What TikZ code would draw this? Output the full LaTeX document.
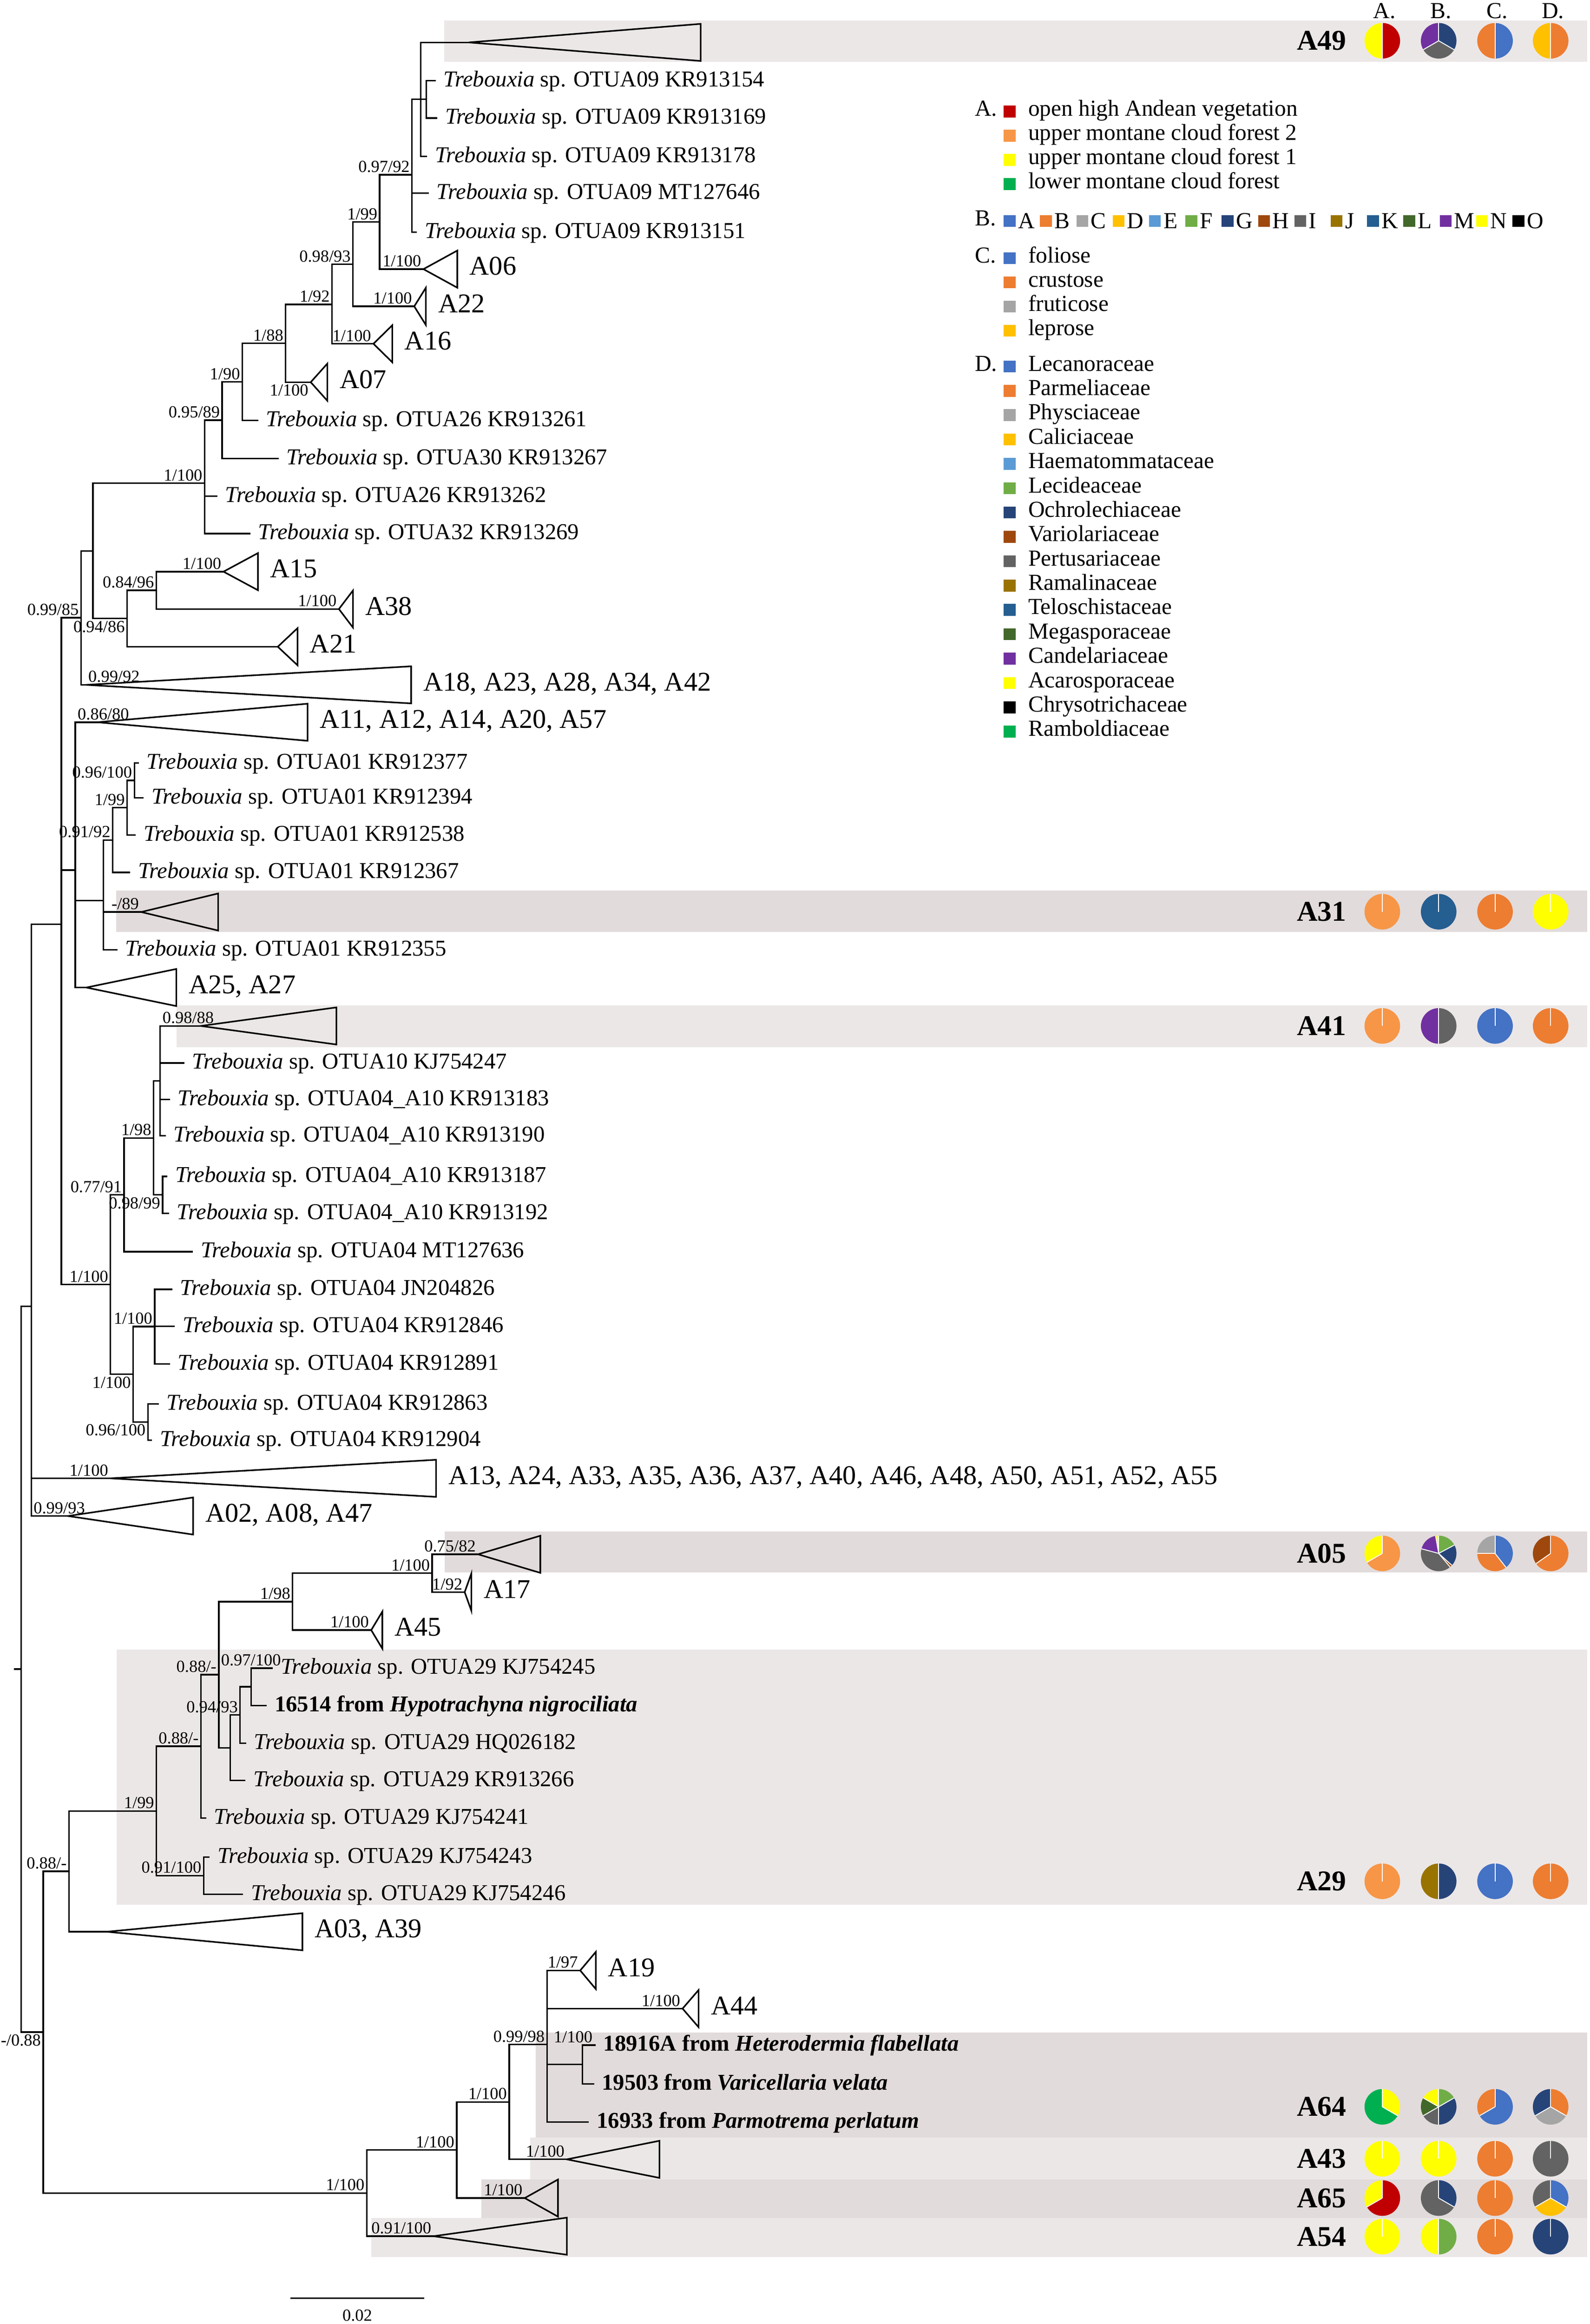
\documentclass[tikz,border=0pt]{standalone}
\usepackage{fontspec}
\setmainfont{Liberation Serif}
\usepackage{tikz}
\usetikzlibrary{positioning}
\definecolor{cRed}{HTML}{C00000}
\definecolor{cLor}{HTML}{F79646}
\definecolor{cYel}{HTML}{FFFF00}
\definecolor{cGrn}{HTML}{00B050}
\definecolor{cA}{HTML}{4472C4}
\definecolor{cB}{HTML}{ED7D31}
\definecolor{cC}{HTML}{A5A5A5}
\definecolor{cD}{HTML}{FFC000}
\definecolor{cE}{HTML}{5B9BD5}
\definecolor{cF}{HTML}{70AD47}
\definecolor{cG}{HTML}{264478}
\definecolor{cH}{HTML}{9E480E}
\definecolor{cI}{HTML}{636363}
\definecolor{cJ}{HTML}{997300}
\definecolor{cK}{HTML}{255E91}
\definecolor{cL}{HTML}{43682B}
\definecolor{cM}{HTML}{7030A0}
\definecolor{cN}{HTML}{FFFF00}
\definecolor{cO}{HTML}{000000}
\definecolor{shadeL}{HTML}{ECE7E7}
\definecolor{shadeD}{HTML}{E2DBDB}
\tikzset{
  branch/.style={draw=black, line width=0.6pt, line cap=rect},
  tri/.style={draw=black, line width=0.6pt, line join=miter},
  leaf/.style={font=\fontsize{8.7}{10}\selectfont, anchor=mid west, inner sep=0pt, xshift=0.11cm},
  bleaf/.style={leaf, font=\fontsize{8.7}{10}\selectfont\bfseries},
  clab/.style={font=\fontsize{10.4}{12}\selectfont, anchor=mid west, inner sep=0pt, xshift=0.16cm},
  sup/.style={font=\fontsize{6.5}{7}\selectfont, inner sep=0.7pt},
  rowlab/.style={font=\fontsize{11}{13}\selectfont\bfseries, anchor=east, inner sep=0pt},
  hdr/.style={font=\fontsize{8.8}{10}\selectfont, anchor=base, inner sep=0pt},
  legt/.style={font=\fontsize{8.8}{10}\selectfont, anchor=mid west, inner sep=0pt},
  legsq/.style={minimum size=0.16cm, inner sep=0pt, outer sep=0pt},
}
% one pie: centre x, centre y, list of start/end/colour (degrees clockwise from top)
\newcommand{\pieat}[3]{%
  \foreach \angA/\angB/\col in {#3}
    \fill[fill=\col] (#1,#2) -- ++({\angA-90}:12) arc[start angle={\angA-90}, end angle={\angB-90}, radius=12] -- cycle;
  \foreach \angA/\angB/\col in {#3}
    \draw[white, line width=0.35pt] (#1,#2) -- ++({\angA-90}:12);
}
\newcommand{\pierow}[6]{%
  \node[rowlab] (row#1) at (908,#2) {#1};
  \pieat{932}{#2}{#3}%
  \pieat{970}{#2}{#4}%
  \pieat{1008}{#2}{#5}%
  \pieat{1045.5}{#2}{#6}%
}
\begin{document}
\begin{tikzpicture}[x=0.02cm, y=-0.02cm]
  \fill[white] (0,0) rectangle (1072,1566.4);
  \useasboundingbox (0,0) rectangle (1072,1566.4);

  % shaded clades
  \fill[shadeL] (299.4,13.8) rectangle (1070,41.7);
  \fill[shadeD] (78.3,600.2) rectangle (1070,628.2);
  \fill[shadeL] (119.1,677.6) rectangle (1070,705.7);
  \fill[shadeD] (299.8,1032.1) rectangle (1070,1059.9);
  \fill[shadeL] (78.5,1111.9) rectangle (1070,1283.8);
  \fill[shadeD] (361.3,1369.9) rectangle (1070,1440.8);
  \fill[shadeL] (357.4,1440.8) rectangle (1070,1469);
  \fill[shadeD] (324.4,1469) rectangle (1070,1494.8);
  \fill[shadeL] (250.3,1494.8) rectangle (1070,1521.4);

  % tips and internal nodes, upper part
  \coordinate (tA49) at (316.1,28.6);
  \coordinate (t154) at (293.2,54.3);
  \coordinate (t169) at (294.3,79.6);
  \coordinate (n16) at (287.5,66.9);
  \coordinate (t178) at (287.5,105.5);
  \coordinate (n15) at (283.6,66.9);
  \coordinate (t646) at (288.6,130.2);
  \coordinate (t151) at (280.6,156.5);
  \coordinate (n14) at (277.8,117.8);
  \coordinate (tA06) at (285.5,181.4);
  \coordinate (n13) at (256,149.6);
  \coordinate (tA22) at (279.3,206.5);
  \coordinate (n12) at (238,178.2);
  \coordinate (tA16) at (251.8,231.7);
  \coordinate (n11) at (223.9,205.2);
  \coordinate (tA07) at (209.5,257.6);
  \coordinate (n10) at (192.6,231.4);
  \coordinate (t261) at (173.5,283.3);
  \coordinate (n9) at (163.4,257.4);
  \coordinate (t267) at (187.3,309);
  \coordinate (n8) at (149.8,283.2);
  \coordinate (t262) at (146,334.4);
  \coordinate (t269) at (168.2,359.6);
  \coordinate (n6) at (138,325.7);
  \coordinate (tA15) at (150.7,385.3);
  \coordinate (tA38) at (228.5,410.5);
  \coordinate (n17) at (105.4,397.9);
  \coordinate (tA21) at (187.3,435.9);
  \coordinate (n7) at (85.7,416.9);
  \coordinate (n5) at (62.6,371.3);
  \coordinate (tA18) at (58,461.6);
  \coordinate (n2) at (54.6,416.4);
  \coordinate (tA11) at (65.6,486.8);
  \coordinate (t377) at (93.1,514.3);
  \coordinate (t394) at (96.3,537.7);
  \coordinate (n21) at (90.6,526);
  \coordinate (t538) at (91,562.8);
  \coordinate (n20) at (85.7,544.4);
  \coordinate (t367) at (87.2,588);
  \coordinate (n19) at (76,566.2);
  \coordinate (tA31) at (95.2,614.7);
  \coordinate (t355) at (78.7,640.2);
  \coordinate (n18) at (69.8,607);
  \coordinate (tA25) at (58.2,665.6);
  \coordinate (n3) at (50.8,586.5);
  \coordinate (tA41) at (135.4,691.5);
  \coordinate (t247) at (123.8,716.5);
  \coordinate (t183) at (114.1,741);
  \coordinate (t190) at (111.2,765.4);
  \coordinate (n25) at (108,728.6);
  \coordinate (t187) at (112.3,792.9);
  \coordinate (t192) at (113.5,817.8);
  \coordinate (n26) at (109.6,805.35);
  \coordinate (n24) at (103.6,767);
  \coordinate (t636) at (129.5,843.6);
  \coordinate (n22) at (83.7,805.3);
  \coordinate (t826) at (115.7,869);
  \coordinate (t846) at (117.3,894);
  \coordinate (t891) at (114.1,919.4);
  \coordinate (n27) at (104.3,894.1);
  \coordinate (t863) at (106.6,946.3);
  \coordinate (t904) at (102,970.6);
  \coordinate (n28) at (99.7,958.45);
  \coordinate (n23) at (89.8,926.3);
  \coordinate (n4) at (74.5,865.8);
  \coordinate (n1) at (41.3,622.9);
  \coordinate (tA13) at (74.5,996.4);
  \coordinate (tA02) at (45.8,1021.8);
  \coordinate (nA) at (21.1,880.4);

  % lower part
  \coordinate (tA05) at (322.3,1047.6);
  \coordinate (tA17) at (313.3,1073.1);
  \coordinate (n37) at (291.4,1060.35);
  \coordinate (tA45) at (250.3,1098.7);
  \coordinate (n35) at (197.3,1079.5);
  \coordinate (t245) at (183.5,1124.3);
  \coordinate (t16514) at (179.3,1149.5);
  \coordinate (n39) at (169.4,1136.9);
  \coordinate (tHQ) at (165.5,1174.9);
  \coordinate (n38) at (161.9,1155.9);
  \coordinate (t266) at (164.9,1200.1);
  \coordinate (n36) at (155.3,1178);
  \coordinate (n34) at (147.5,1128.75);
  \coordinate (t241) at (138.5,1225.3);
  \coordinate (n32) at (135.5,1177);
  \coordinate (t243) at (140.9,1251.6);
  \coordinate (t246) at (163.4,1276.8);
  \coordinate (n33) at (137.3,1264.2);
  \coordinate (n31) at (105.5,1220.6);
  \coordinate (tA03) at (72,1302);
  \coordinate (n29) at (46.5,1261.3);
  \coordinate (tA19) at (391.2,1328.1);
  \coordinate (tA44) at (460.2,1353.8);
  \coordinate (t18916) at (401,1378.4);
  \coordinate (t19503) at (400,1404.6);
  \coordinate (n43) at (392.7,1391.5);
  \coordinate (t16933) at (396.5,1430.2);
  \coordinate (n42) at (368.8,1378);
  \coordinate (tA43) at (382.2,1455.4);
  \coordinate (n41) at (343.3,1416.7);
  \coordinate (tA65) at (353.8,1481.5);
  \coordinate (n40) at (307.9,1449.1);
  \coordinate (tA54) at (292.3,1507.2);
  \coordinate (n30) at (247.3,1478.15);
  \coordinate (nB) at (29.1,1369.7);
  \coordinate (root) at (14.2,1125);
  \coordinate (rootstub) at (10,1125);

  \coordinate (sA11) at (n3 |- tA11);
  \coordinate (sA41) at (n25 |- tA41);
  \coordinate (sA02) at (nA |- tA02);
  \coordinate (s245) at (n34 |- t245);

  % branches
  \draw[branch] (tA49) -| (n15) |- (t178);
  \draw[branch] (n15) -- (n16);
  \draw[branch] (t154) -| (n16) |- (t169);
  \draw[branch] (n15) -| (n14) |- (t151);
  \draw[branch] (n14 |- t646) -- (t646);
  \draw[branch] (n14) -| (n13) |- (tA06);
  \draw[branch] (n13) -| (n12) |- (tA22);
  \draw[branch] (n12) -| (n11) |- (tA16);
  \draw[branch] (n11) -| (n10) |- (tA07);
  \draw[branch] (n10) -| (n9) |- (t261);
  \draw[branch] (n9) -| (n8) |- (t267);
  \draw[branch] (n8) -| (n6) |- (t269);
  \draw[branch] (n6 |- t262) -- (t262);
  \draw[branch] (tA15) -| (n17) |- (tA38);
  \draw[branch] (n17) -| (n7) |- (tA21);
  \draw[branch] (n6) -| (n5) |- (n7);
  \draw[branch] (n5) -| (n2) |- (tA18);
  \draw[branch] (t377) -| (n21) |- (t394);
  \draw[branch] (n21) -| (n20) |- (t538);
  \draw[branch] (n20) -| (n19) |- (t367);
  \draw[branch] (n19) -| (n18) |- (t355);
  \draw[branch] (n18 |- tA31) -- (tA31);
  \draw[branch] (tA11) -| (n3) |- (tA25);
  \draw[branch] (n3 |- n18) -- (n18);
  \draw[branch] (tA41) -| (n25) |- (t190);
  \foreach \c in {t247,t183}
    \draw[branch] (n25 |- \c) -- (\c);
  \draw[branch] (t187) -| (n26) |- (t192);
  \draw[branch] (n25) -| (n24) |- (n26);
  \draw[branch] (n24) -| (n22) |- (t636);
  \draw[branch] (t826) -| (n27) |- (t891);
  \draw[branch] (n27 |- t846) -- (t846);
  \draw[branch] (t863) -| (n28) |- (t904);
  \draw[branch] (n27) -| (n23) |- (n28);
  \draw[branch] (n22) -| (n4) |- (n23);
  \draw[branch] (n2) -| (n1) |- (n4);
  \draw[branch] (n1 |- n3) -- (n3);
  \draw[branch] (n1) -| (nA) |- (tA02);
  \draw[branch] (nA |- tA13) -- (tA13);
  \draw[branch] (tA05) -| (n37) |- (tA17);
  \draw[branch] (n37) -| (n35) |- (tA45);
  \draw[branch] (t245) -| (n39) |- (t16514);
  \draw[branch] (n39) -| (n38) |- (tHQ);
  \draw[branch] (n38) -| (n36) |- (t266);
  \draw[branch] (n35) -| (n34) |- (n36);
  \draw[branch] (n34) -| (n32) |- (t241);
  \draw[branch] (t243) -| (n33) |- (t246);
  \draw[branch] (n32) -| (n31) |- (n33);
  \draw[branch] (n31) -| (n29) |- (tA03);
  \draw[branch] (t18916) -| (n43) |- (t19503);
  \draw[branch] (tA19) -| (n42) |- (t16933);
  \draw[branch] (n42 |- tA44) -- (tA44);
  \draw[branch] (n42 |- n43) -- (n43);
  \draw[branch] (n42) -| (n41) |- (tA43);
  \draw[branch] (n41) -| (n40) |- (tA65);
  \draw[branch] (n40) -| (n30) |- (tA54);
  \draw[branch] (n29) -| (nB) |- (n30);
  \draw[branch] (nA) -| (root) |- (nB);
  \draw[branch] (rootstub) -- (root);

  % collapsed clades
  \foreach \a/\dx in {tA49/156.3, tA31/51.9, tA41/91.4, tA05/42, tA43/62.4, tA65/22.4, tA54/89.9}
    \draw[tri] (\a) -- ++(\dx,-12.5) -- ++(0,25) -- cycle;
  \foreach \a/\dx/\txt in {tA06/22.8/A06, tA22/7.8/A22, tA16/12.7/A16, tA07/11.2/A07,
      tA15/23.2/A15, tA38/9.5/A38, tA21/13.3/A21, tA18/219.2/{A18, A23, A28, A34, A42},
      tA11/141.8/{A11, A12, A14, A20, A57}, tA25/60.7/{A25, A27},
      tA13/219.5/{A13, A24, A33, A35, A36, A37, A40, A46, A48, A50, A51, A52, A55},
      tA02/84.4/{A02, A08, A47}, tA17/4.5/A17, tA45/7.5/A45, tA03/131.9/{A03, A39},
      tA19/10.5/A19, tA44/10.8/A44} {
    \draw[tri] (\a) -- ++(\dx,-12.5) -- ++(0,25) -- cycle;
    \path (\a) ++(\dx,0) node[clab] (lab\a) {\txt};
  }

  % tip labels
  \foreach \t/\otu/\acc in {t154/OTUA09/KR913154, t169/OTUA09/KR913169, t178/OTUA09/KR913178,
      t646/OTUA09/MT127646, t151/OTUA09/KR913151, t261/OTUA26/KR913261, t267/OTUA30/KR913267,
      t262/OTUA26/KR913262, t269/OTUA32/KR913269, t377/OTUA01/KR912377, t394/OTUA01/KR912394,
      t538/OTUA01/KR912538, t367/OTUA01/KR912367, t355/OTUA01/KR912355, t247/OTUA10/KJ754247,
      t183/OTUA04\_A10/KR913183, t190/OTUA04\_A10/KR913190, t187/OTUA04\_A10/KR913187,
      t192/OTUA04\_A10/KR913192, t636/OTUA04/MT127636, t826/OTUA04/JN204826,
      t846/OTUA04/KR912846, t891/OTUA04/KR912891, t863/OTUA04/KR912863, t904/OTUA04/KR912904,
      t245/OTUA29/KJ754245, tHQ/OTUA29/HQ026182, t266/OTUA29/KR913266, t241/OTUA29/KJ754241,
      t243/OTUA29/KJ754243, t246/OTUA29/KJ754246}
    \node[leaf] (l\t) at (\t) {\textit{Trebouxia} sp. \otu\ \acc};
  \node[bleaf] (l16514) at (t16514) {16514 from \textit{Hypotrachyna nigrociliata}};
  \node[bleaf] (l18916) at (t18916) {18916A from \textit{Heterodermia flabellata}};
  \node[bleaf] (l19503) at (t19503) {19503 from \textit{Varicellaria velata}};
  \node[bleaf] (l16933) at (t16933) {16933 from \textit{Parmotrema perlatum}};

  % support values
  \foreach \nd/\anc/\val in {n14/south east/{0.97/92}, n13/south east/{1/99}, n12/south east/{0.98/93},
      tA06/south east/{1/100}, n11/south east/{1/92}, tA22/south east/{1/100}, n10/south east/{1/88},
      tA16/south east/{1/100}, n9/south east/{1/90}, tA07/north east/{1/100}, n8/south east/{0.95/89},
      n6/south east/{1/100}, tA15/south east/{1/100}, n17/south east/{0.84/96}, tA38/south east/{1/100},
      n2/south east/{0.99/85}, n7/north east/{0.94/86}, tA18/south west/{0.99/92},
      sA11/south west/{0.86/80}, n21/south east/{0.96/100}, n20/south east/{1/99},
      n19/south east/{0.91/92}, tA31/south east/{-/89}, sA41/south west/{0.98/88},
      n24/south east/{1/98}, n22/south east/{0.77/91}, n26/north east/{0.98/99},
      n4/south east/{1/100}, n27/south east/{1/100}, n23/north east/{1/100},
      n28/north east/{0.96/100}, tA13/south east/{1/100}, sA02/south west/{0.99/93},
      tA05/south east/{0.75/82}, n37/south east/{1/100}, tA17/south east/{1/92},
      n35/south east/{1/98}, tA45/south east/{1/100}, s245/south west/{0.97/100},
      n34/south east/{0.88/-}, n38/south east/{0.94/93}, n32/south east/{0.88/-},
      n31/south east/{1/99}, n33/south east/{0.91/100}, n29/south east/{0.88/-},
      nB/north east/{-/0.88}, tA19/south east/{1/97}, tA44/south east/{1/100},
      t18916/south east/{1/100}, n42/south east/{0.99/98}, n41/south east/{1/100},
      tA43/south east/{1/100}, n40/south east/{1/100}, tA65/south east/{1/100},
      n30/south east/{1/100}, tA54/south east/{0.91/100}}
    \node[sup, anchor=\anc] (s\nd) at (\nd) {\val};

  % scale bar
  \coordinate (sbL) at (196.4,1549);
  \coordinate (sbR) at (285.4,1549);
  \draw[branch] (sbL) -- (sbR) node[sup, midway, anchor=north, yshift=-0.12cm] (sbtext) {0.02};

  % pie columns
  \foreach \x/\h in {932/A, 970/B, 1008/C, 1045.5/D}
    \node[hdr] (head\h) at (\x+1.5,12.5) {\h.};
  \pierow{A49}{27.5}{0/180/cRed, 180/360/cYel}{0/120/cG, 120/240/cI, 240/360/cM}{0/180/cA, 180/360/cB}{0/180/cB, 180/360/cD}
  \pierow{A31}{614.5}{0/360/cLor}{0/360/cK}{0/360/cB}{0/360/cN}
  \pierow{A41}{691.5}{0/360/cLor}{0/180/cI, 180/360/cM}{0/360/cA}{0/360/cB}
  \pierow{A05}{1047}{0/240/cLor, 240/360/cYel}{0/62/cF, 62/132/cG, 132/140/cH, 140/285/cI, 285/350/cM, 350/360/cN}{0/142/cA, 142/270/cB, 270/360/cC}{0/235/cB, 235/360/cH}
  \pierow{A29}{1268}{0/360/cLor}{0/180/cG, 180/360/cJ}{0/360/cA}{0/360/cB}
  \pierow{A64}{1420}{0/120/cYel, 120/360/cGrn}{0/60/cF, 60/180/cG, 180/240/cI, 240/300/cL, 300/360/cN}{0/240/cA, 240/360/cB}{0/120/cB, 120/240/cC, 240/360/cG}
  \pierow{A43}{1455}{0/360/cYel}{0/360/cN}{0/360/cB}{0/360/cI}
  \pierow{A65}{1481.5}{0/240/cRed, 240/360/cYel}{0/120/cG, 120/360/cI}{0/360/cB}{0/120/cA, 120/240/cD, 240/360/cI}
  \pierow{A54}{1507.5}{0/360/cYel}{0/180/cF, 180/360/cN}{0/360/cB}{0/360/cG}

  % legend
  \node[legt] (legA) at (657,74.2) {A.};
  \foreach \col/\txt [count=\i from 0] in {cRed/open high Andean vegetation, cLor/upper montane cloud forest 2,
      cYel/upper montane cloud forest 1, cGrn/lower montane cloud forest} {
    \node[legsq, fill=\col] (sqA\i) at (680.7,{75.2+16.3*\i}) {};
    \node[legt] (txA\i) at (693,{74.2+16.3*\i}) {\txt};
  }
  \node[legt] (legB) at (657,148) {B.};
  \foreach \L [count=\i from 0] in {A,B,C,D,E,F,G,H,I,J,K,L,M,N,O} {
    \node[legsq, fill=c\L] (sqB\L) at ({680.7+24.5*\i},149) {};
    \node[legt, right=0.8pt of sqB\L] (txB\L) {\L};
  }
  \node[legt] (legC) at (657,173) {C.};
  \foreach \col/\txt [count=\i from 0] in {cA/foliose, cB/crustose, cC/fruticose, cD/leprose} {
    \node[legsq, fill=\col] (sqC\i) at (680.7,{174+16.3*\i}) {};
    \node[legt] (txC\i) at (693,{173+16.3*\i}) {\txt};
  }
  \node[legt] (legD) at (657,246) {D.};
  \foreach \col/\txt [count=\i from 0] in {cA/Lecanoraceae, cB/Parmeliaceae, cC/Physciaceae, cD/Caliciaceae,
      cE/Haematommataceae, cF/Lecideaceae, cG/Ochrolechiaceae, cH/Variolariaceae, cI/Pertusariaceae,
      cJ/Ramalinaceae, cK/Teloschistaceae, cL/Megasporaceae, cM/Candelariaceae, cN/Acarosporaceae,
      cO/Chrysotrichaceae, cGrn/Ramboldiaceae} {
    \node[legsq, fill=\col] (sqD\i) at (680.7,{247+16.41*\i}) {};
    \node[legt] (txD\i) at (693,{246+16.41*\i}) {\txt};
  }
\end{tikzpicture}
\end{document}
